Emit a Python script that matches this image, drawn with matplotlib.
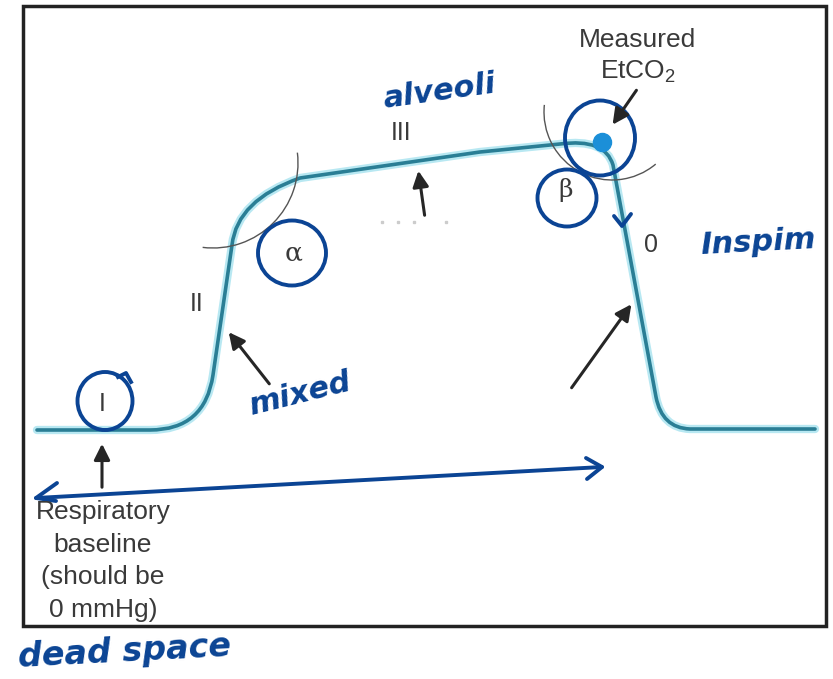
import matplotlib.pyplot as plt
from matplotlib.path import Path
from matplotlib.patches import PathPatch, Arc, Ellipse, Rectangle

plt.rcParams['mathtext.fontset'] = 'custom'
plt.rcParams['mathtext.rm'] = 'Liberation Sans'

# capnogram waveform (drawing units, y grows downward)
wave_t = [37, 150, 205, 213, 232, 237, 300, 480, 560, 605, 613, 656, 662, 690, 815]
wave_co2 = [430, 430, 430, 375, 245, 200, 178, 152, 144, 138, 165, 397, 428, 429, 429]
wave_codes = [Path.MOVETO, Path.LINETO, Path.CURVE3, Path.CURVE3, Path.LINETO,
              Path.CURVE3, Path.CURVE3, Path.LINETO, Path.LINETO, Path.CURVE3,
              Path.CURVE3, Path.LINETO, Path.CURVE3, Path.CURVE3, Path.LINETO]
etco2_point = (602, 142)

phase_labels = ["I", "II", "III", "0"]
angle_labels = ["\u03b1", "\u03b2"]
baseline_lines = ["Respiratory", "baseline", "(should be", "0 mmHg)"]
notes = ["alveoli", "mixed", "Inspim", "dead space"]

gray = '#3a3a3a'
ink = '#0b4494'
teal = '#2a7e95'

fig = plt.figure(figsize=(8.33, 6.79), dpi=100)
ax = fig.add_axes([0, 0, 1, 1])
ax.set_xlim(0, 833)
ax.set_ylim(679, 0)
ax.axis('off')

ax.add_patch(Rectangle((23, 6), 803, 620, fill=False, lw=2.5, ec='#222222'))

# waveform with light halo
path = Path(list(zip(wave_t, wave_co2)), wave_codes)
ax.add_patch(PathPatch(path, fill=False, lw=6, ec='#b8e8f2', capstyle='round'))
ax.add_patch(PathPatch(path, fill=False, lw=2.6, ec=teal, capstyle='round'))
ax.plot(*etco2_point, 'o', ms=13, color='#1b8fd8', zorder=5)

# angle arcs
ax.add_patch(Arc((213, 163), 170, 170, theta1=-7, theta2=97, lw=1, color='#555555'))
ax.add_patch(Arc((612, 112), 136, 136, theta1=50, theta2=186, lw=1, color='#555555'))

# printed labels
txt = dict(color=gray, ha='center', va='center', family='Liberation Sans')
ax.text(102, 404, phase_labels[0], fontsize=18, **txt)
ax.text(197, 304, phase_labels[1], fontsize=18, **txt)
ax.text(401, 133, phase_labels[2], fontsize=18, **txt)
ax.text(651, 245, phase_labels[3], fontsize=18, **txt)
ax.text(294, 253, angle_labels[0], fontsize=19, color=gray, ha='center', va='center', family='DejaVu Serif')
ax.text(566, 190, angle_labels[1], fontsize=18, color=gray, ha='center', va='center', family='DejaVu Serif')
ax.text(638, 40, "Measured", fontsize=19, **txt)
ax.text(638, 72, r"EtCO$_\mathregular{2}$", fontsize=19, **txt)
for i, line in enumerate(baseline_lines):
    ax.text(103, 512 + 32.5 * i, line, fontsize=19, **txt)

# black arrows
arr = dict(arrowstyle='-|>', lw=2.2, color='#262626', mutation_scale=24)
ax.annotate('', xy=(102, 441), xytext=(102, 490), arrowprops=arr)
ax.annotate('', xy=(227, 330), xytext=(271, 386), arrowprops=arr)
ax.annotate('', xy=(418, 168), xytext=(425, 218), arrowprops=arr)
ax.annotate('', xy=(633, 302), xytext=(570, 390), arrowprops=arr)
ax.annotate('', xy=(611, 127), xytext=(638, 88), arrowprops=arr)

# faint dotted marks under phase III
ax.plot([382, 398, 414, 446], [222, 222, 222, 222], ls='none', marker='s', ms=1.5, color='#cccccc')

# handwritten notes
hand = dict(color=ink, ha='center', va='center', family='DejaVu Sans',
            style='italic', weight='bold')
ax.text(440, 92, notes[0], fontsize=22, rotation=8, **hand)
ax.text(300, 394, notes[1], fontsize=22, rotation=14, **hand)
ax.text(758, 243, notes[2], fontsize=22, rotation=3, **hand)
ax.text(125, 652, notes[3], fontsize=24, rotation=3, **hand)

# hand-drawn circles
circ = dict(fill=False, lw=2.8, ec=ink)
ax.add_patch(Ellipse((105, 401), 55, 58, **circ))
ax.add_patch(Ellipse((292, 253), 68, 65, **circ))
ax.add_patch(Ellipse((600, 138), 70, 75, **circ))
ax.add_patch(Ellipse((567, 198), 59, 57, **circ))
ax.plot([118, 126, 131], [377, 373, 382], color=ink, lw=2.8)
ax.plot([614, 622, 631], [216, 226, 214], color=ink, lw=2.8, solid_capstyle='round')

# long hand-drawn arrow
ax.plot([36, 602], [498, 467], color=ink, lw=2.8, solid_capstyle='round')
ax.plot([57, 36, 56], [483, 498, 501], color=ink, lw=2.8, solid_capstyle='round')
ax.plot([586, 602, 587], [458, 467, 479], color=ink, lw=2.8, solid_capstyle='round')

fig.savefig('out.png', dpi=100, facecolor='white')
